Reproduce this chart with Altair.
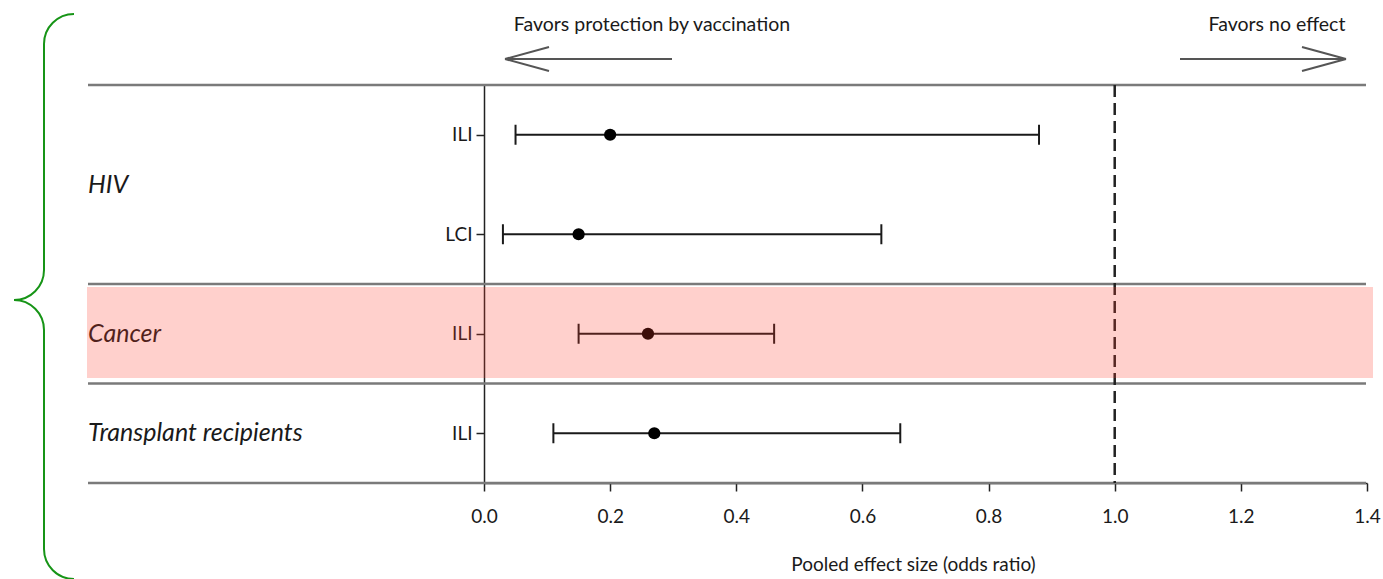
import altair as alt
import pandas as pd

# ---- data ----
groups = ["HIV", "HIV", "Cancer", "Transplant recipients"]
outcomes = ["ILI", "LCI", "ILI", "ILI"]
odds_ratio = [0.20, 0.15, 0.26, 0.27]
ci_low = [0.05, 0.03, 0.15, 0.11]
ci_high = [0.88, 0.63, 0.46, 0.66]
x_ticks = [0.0, 0.2, 0.4, 0.6, 0.8, 1.0, 1.2, 1.4]
group_labels = ["HIV", "Cancer", "Transplant recipients"]
header_left = "Favors protection by vaccination"
header_right = "Favors no effect"
x_title = "Pooled effect size (odds ratio)"

FONT = "Lato"
OX, OY = 484, 85          # plot origin in page pixels
W, H = 883, 398
TXT = "#1a1a1a"

rows = pd.DataFrame({
    "group": groups, "outcome": outcomes, "or": odds_ratio,
    "lo": ci_low, "hi": ci_high,
})
rows["row"] = [i + 0.5 for i in range(len(rows))]

glab = rows.groupby("group", sort=False)["row"].mean().reset_index()
glab = glab.set_index("group").loc[group_labels].reset_index()

xs = alt.Scale(domain=[0, 1.4], nice=False, zero=False)
ys = alt.Scale(domain=[0, len(rows)], reverse=True, nice=False, zero=False)

label_expr = "[" + ",".join("'%s'" % o for o in outcomes) + "][floor(datum.value)]"

base = alt.Chart(rows)

points_axis = base.mark_point(opacity=0).encode(
    x=alt.X("or:Q", scale=xs, axis=alt.Axis(
        values=x_ticks, format=".1f", title=x_title, grid=False, labelFlush=False,
        domainColor="#222", domainWidth=1.5, tickColor="#222", tickWidth=1.5,
        tickSize=8, labelFont=FONT, labelFontSize=19, labelColor=TXT,
        labelPadding=16, titleFont=FONT, titleFontSize=19, titleFontWeight="normal",
        titleColor=TXT, titleX=429, titleY=81, titleBaseline="middle")),
    y=alt.Y("row:Q", scale=ys, axis=alt.Axis(
        values=list(rows["row"]), labelExpr=label_expr, title=None, grid=False,
        domainColor="#222", domainWidth=1.5, tickColor="#222", tickWidth=1.5,
        tickSize=8, labelFont=FONT, labelFontSize=19, labelColor=TXT,
        labelPadding=4)),
)

ci_rule = base.mark_rule(color="#1a1a1a", strokeWidth=2).encode(
    x=alt.X("lo:Q", scale=xs), x2="hi:Q", y=alt.Y("row:Q", scale=ys))
cap_lo = base.mark_tick(color="#1a1a1a", orient="vertical", size=20, thickness=2,
                        opacity=1).encode(
    x=alt.X("lo:Q", scale=xs), y=alt.Y("row:Q", scale=ys))
cap_hi = base.mark_tick(color="#1a1a1a", orient="vertical", size=20, thickness=2,
                        opacity=1).encode(
    x=alt.X("hi:Q", scale=xs), y=alt.Y("row:Q", scale=ys))
dots = base.mark_circle(color="#000", size=150, opacity=1).encode(
    x=alt.X("or:Q", scale=xs), y=alt.Y("row:Q", scale=ys))

null_line = alt.Chart(pd.DataFrame({"v": [1.0]})).mark_rule(
    color="#222", strokeWidth=2.5, strokeDash=[12, 6]).encode(
    x=alt.X("v:Q", scale=xs), y=alt.value(0), y2=alt.value(H))

# separator lines between groups (top, HIV|Cancer, Cancer|Transplant, bottom)
sep = pd.DataFrame({"b": [0, 2, 3, 4]})
sep_lines = alt.Chart(sep).mark_rule(color="#7a7a7a", strokeWidth=2.5).encode(
    y=alt.Y("b:Q", scale=ys), x=alt.value(88 - OX), x2=alt.value(1366 - OX))

group_text = alt.Chart(glab).mark_text(
    align="left", baseline="middle", font=FONT, fontSize=25, fontStyle="italic",
    color=TXT).encode(
    text="group:N", y=alt.Y("row:Q", scale=ys), x=alt.value(88 - OX))

band = alt.Chart(pd.DataFrame({"g": ["Cancer"]})).mark_rect(
    color="#ff3a2a", opacity=0.24).encode(
    x=alt.value(87 - OX), x2=alt.value(1373 - OX),
    y=alt.value(287 - OY), y2=alt.value(378 - OY))

one = pd.DataFrame({"a": [0]})


def seg(x1, y1, x2, y2, color="#555", width=2):
    return alt.Chart(one).mark_rule(color=color, strokeWidth=width).encode(
        x=alt.value(x1 - OX), y=alt.value(y1 - OY),
        x2=alt.value(x2 - OX), y2=alt.value(y2 - OY))


arrows = [
    seg(505, 59, 672, 59), seg(505, 59, 549, 47), seg(505, 59, 549, 71),
    seg(1180, 59, 1346, 59), seg(1346, 59, 1302, 47), seg(1346, 59, 1302, 71),
]


def head(txt, cx):
    return alt.Chart(one).mark_text(
        font=FONT, fontSize=19.5, color=TXT, align="center", baseline="middle").encode(
        text=alt.value(txt), x=alt.value(cx - OX), y=alt.value(25 - OY))


heads = [head(header_left, 652), head(header_right, 1277)]

GREEN = "#169416"
PI = 3.141592653589793


def arc(cx, cy, t1, t2, r=30):
    return alt.Chart(one).mark_arc(
        radius=r, radius2=r, theta=t1, theta2=t2, fillOpacity=0,
        stroke=GREEN, strokeWidth=2).encode(
        x=alt.value(cx - OX), y=alt.value(cy - OY))


brace = [
    arc(74, 44, 1.5 * PI, 2 * PI),
    seg(44, 44, 44, 270, GREEN, 2),
    arc(14, 270, 0.5 * PI, PI),
    arc(14, 330, 0, 0.5 * PI),
    seg(44, 330, 44, 549, GREEN, 2),
    arc(74, 549, PI, 1.5 * PI),
]

chart = alt.layer(
    points_axis, sep_lines, null_line, ci_rule, cap_lo, cap_hi, dots, group_text,
    band, *arrows, *heads, *brace,
).properties(
    width=W, height=H,
    autosize=alt.AutoSizeParams(type="none"),
    padding={"left": OX, "top": OY, "right": 1383 - OX - W, "bottom": 579 - OY - H},
    background="white",
).configure_view(stroke=None)

chart.save("out.html", embed_options={"renderer": "svg", "actions": False})
